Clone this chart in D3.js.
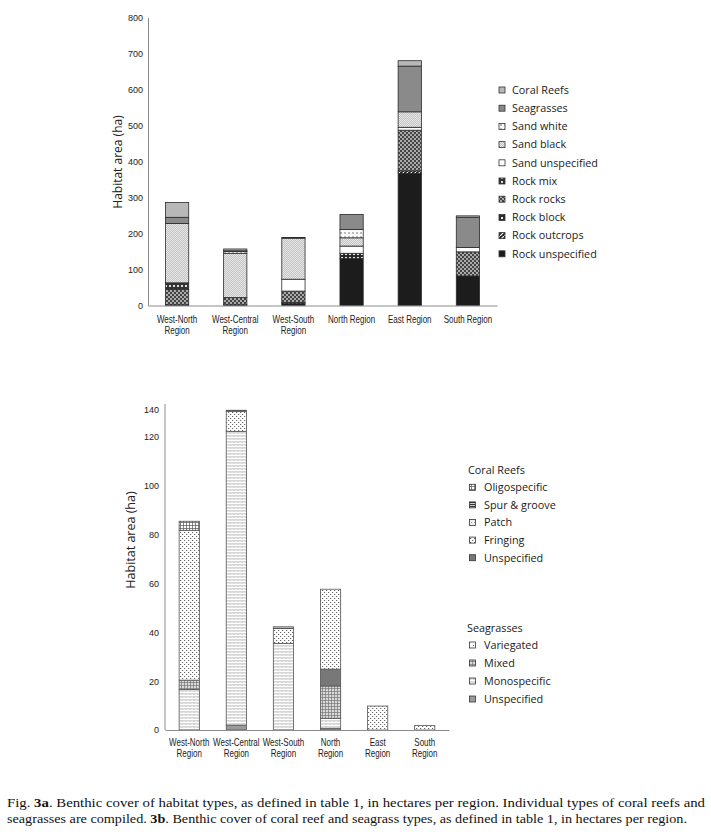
<!DOCTYPE html>
<html><head><meta charset="utf-8">
<script src="https://cdn.jsdelivr.net/npm/d3@7"></script>
<style>
body{margin:0;background:#fff;}
svg{display:block;}
.tick text{font-family:"Liberation Sans","Arial",sans-serif;font-size:9px;fill:#222;}
</style></head>
<body><svg id="c" width="711" height="837"></svg>
<script>
// ---------- Data: Fig 3a ----------
const regionsA = ["West-North Region","West-Central Region","West-South Region","North Region","East Region","South Region"];
const labelsA = [["West-North","Region"],["West-Central","Region"],["West-South","Region"],["North Region"],["East Region"],["South Region"]];
const seriesA = ["Rock unspecified","Rock outcrops","Rock block","Rock rocks","Rock mix","Sand unspecified","Sand black","Sand white","Seagrasses","Coral Reefs"];
const rockUnspecified = [2, 2, 5, 131, 367, 82];
const rockOutcrops    = [0, 0, 3, 0, 7, 0];
const rockBlock       = [0, 0, 0, 14, 0, 0];
const rockRocks       = [43, 20, 32, 0, 113, 67];
const rockMix         = [18, 0, 0, 0, 0, 0];
const sandUnspecified = [0, 0, 33, 20, 8, 12];
const sandBlack       = [165, 123, 114, 23, 43, 0];
const sandWhite       = [0, 5, 0, 23, 0, 0];
const seagrasses      = [17, 2, 2, 42, 127, 84];
const coralReefs      = [41, 5, 0, 0, 15, 4];
const ticksA = [0,100,200,300,400,500,600,700,800];

// ---------- Data: Fig 3b ----------
const regionsB = ["West-North Region","West-Central Region","West-South Region","North Region","East Region","South Region"];
const labelsB = [["West-North","Region"],["West-Central","Region"],["West-South","Region"],["North","Region"],["East","Region"],["South","Region"]];
const seriesB = ["sgUnspecified","sgMonospecific","sgMixed","sgVariegated","crUnspecified","crFringing","crPatch","crSpurGroove","crOligospecific"];
const sgUnspecified   = [0, 2, 0, 0.7, 0, 0];
const sgMonospecific  = [16.6, 122, 35.4, 4.1, 0, 0];
const sgMixed         = [3.8, 0, 0, 13.2, 0, 0];
const sgVariegated    = [0, 0, 0, 0, 0, 0];
const crUnspecified   = [0, 0, 0, 6.9, 0, 0];
const crFringing      = [61.3, 15, 6.1, 32.7, 9.8, 1.8];
const crPatch         = [0, 0, 0, 0, 0, 0];
const crSpurGroove    = [0, 0.8, 0.7, 0, 0, 0];
const crOligospecific = [3.7, 0, 0, 0, 0, 0];
const ticksB = [0,20,40,60,80,100,120,140];
const legendCoral = ["Oligospecific","Spur & groove","Patch","Fringing","Unspecified"];
const legendCoralKeys = ["crOligospecific","crSpurGroove","crPatch","crFringing","crUnspecified"];
const legendSea = ["Variegated","Mixed","Monospecific","Unspecified"];
const legendSeaKeys = ["sgVariegated","sgMixed","sgMonospecific","sgUnspecified"];

const caption1 = [["Fig. ",false],["3a",true],[". Benthic cover of habitat types, as defined in table 1, in hectares per region. Individual types of coral reefs and",false]];
const caption2 = [["seagrasses are compiled. ",false],["3b",true],[". Benthic cover of coral reef and seagrass types, as defined in table 1, in hectares per region.",false]];

const valuesA = {"Rock unspecified":rockUnspecified,"Rock outcrops":rockOutcrops,"Rock block":rockBlock,"Rock rocks":rockRocks,"Rock mix":rockMix,"Sand unspecified":sandUnspecified,"Sand black":sandBlack,"Sand white":sandWhite,"Seagrasses":seagrasses,"Coral Reefs":coralReefs};
const valuesB = {sgUnspecified,sgMonospecific,sgMixed,sgVariegated,crUnspecified,crFringing,crPatch,crSpurGroove,crOligospecific};

const svg = d3.select("#c");
const defs = svg.append("defs");

// ---------- patterns ----------
function pat(id, w, h, bg, draw){
  const p = defs.append("pattern").attr("id",id).attr("patternUnits","userSpaceOnUse").attr("width",w).attr("height",h);
  p.append("rect").attr("width",w).attr("height",h).attr("fill",bg);
  draw(p);
}
pat("pRockUnspec",4,4,"#1c1c1c",p=>{});
pat("pRockOutcrops",4,4,"#222",p=>{p.append("path").attr("d","M0,4L4,0").attr("stroke","#fff").attr("stroke-width",1.2);});
pat("pRockBlock",4,4,"#2a2a2a",p=>{p.append("rect").attr("x",1).attr("y",1).attr("width",2).attr("height",2).attr("fill","#eee");});
pat("pRockRocks",4,4,"#444",p=>{p.append("rect").attr("width",2).attr("height",2).attr("fill","#aaa");p.append("rect").attr("x",2).attr("y",2).attr("width",2).attr("height",2).attr("fill","#aaa");});
pat("pRockMix",4,4,"#333",p=>{p.append("rect").attr("x",1).attr("y",1).attr("width",2).attr("height",2).attr("fill","#ddd");});
pat("pSandUnspec",4,4,"#fff",p=>{});
pat("pSandBlack",2,2,"#c4c4c4",p=>{p.append("rect").attr("width",1).attr("height",1).attr("fill","#e6e6e6");p.append("rect").attr("x",1).attr("y",1).attr("width",1).attr("height",1).attr("fill","#e6e6e6");});
pat("pSandWhite",4,4,"#fafafa",p=>{p.append("rect").attr("x",0).attr("y",0).attr("width",2).attr("height",2).attr("fill","#bbb");});
pat("pSeagrass",4,4,"#8a8a8a",p=>{});
pat("pCoral",4,4,"#b8b8b8",p=>{});

pat("bSgUnspec",4,4,"#9a9a9a",p=>{});
pat("bSgMono",4,3,"#fff",p=>{p.append("path").attr("d","M0,1.5L1,0.5L2,1.5L3,0.5L4,1.5").attr("fill","none").attr("stroke","#8a8a8a").attr("stroke-width",0.8);});
pat("bSgMixed",3,3,"#d8d8d8",p=>{p.append("path").attr("d","M0,1.5H3M1.5,0V3").attr("stroke","#777").attr("stroke-width",0.7);});
pat("bSgVar",4,4,"#fff",p=>{p.append("rect").attr("x",1).attr("y",1).attr("width",1).attr("height",1).attr("fill","#777");});
pat("bCrUnspec",4,4,"#787878",p=>{});
pat("bCrFringing",4,4,"#fff",p=>{p.append("rect").attr("x",0).attr("y",0).attr("width",1.2).attr("height",1).attr("fill","#666");p.append("rect").attr("x",2).attr("y",2).attr("width",1.2).attr("height",1).attr("fill","#666");});
pat("bCrPatch",3,3,"#eee",p=>{p.append("rect").attr("width",1).attr("height",1).attr("fill","#999");});
pat("bCrSpur",3,2,"#ccc",p=>{p.append("rect").attr("width",3).attr("height",1).attr("fill","#333");});
pat("bCrOligo",3,3,"#fff",p=>{p.append("path").attr("d","M0,0.5H3M0.5,0V3").attr("stroke","#666").attr("stroke-width",0.8);});

const fillA = {"Rock unspecified":"url(#pRockUnspec)","Rock outcrops":"url(#pRockOutcrops)","Rock block":"url(#pRockBlock)","Rock rocks":"url(#pRockRocks)","Rock mix":"url(#pRockMix)","Sand unspecified":"url(#pSandUnspec)","Sand black":"url(#pSandBlack)","Sand white":"url(#pSandWhite)","Seagrasses":"url(#pSeagrass)","Coral Reefs":"url(#pCoral)"};
const fillB = {sgUnspecified:"url(#bSgUnspec)",sgMonospecific:"url(#bSgMono)",sgMixed:"url(#bSgMixed)",sgVariegated:"url(#bSgVar)",crUnspecified:"url(#bCrUnspec)",crFringing:"url(#bCrFringing)",crPatch:"url(#bCrPatch)",crSpurGroove:"url(#bCrSpur)",crOligospecific:"url(#bCrOligo)"};

const axisColor = "#8c8c8c";
const labelFont = '"Liberation Sans","Arial",sans-serif';
const uiFont = '"Open Sans","Noto Sans",sans-serif';

// condensed two-line category label
function catLabel(g, cx, y0, lines, dy){
  const grp = g.append("g").attr("transform",`translate(${cx},${y0}) scale(0.8,1)`);
  const t = grp.append("text").attr("text-anchor","middle").attr("font-family",labelFont).attr("font-size",10).attr("fill","#222");
  lines.forEach((ln,j)=>t.append("tspan").attr("x",0).attr("y",j*dy).text(ln));
}

// ---------- Chart A ----------
(function(){
  const x = d3.scaleBand().domain(regionsA).range([148,497]).paddingInner(0.6).paddingOuter(0.3);
  const y = d3.scaleLinear().domain([0,800]).range([305.5,17.5]);
  const rows = regionsA.map((r,i)=>{const o={region:r}; seriesA.forEach(s=>o[s]=valuesA[s][i]); return o;});
  const stack = d3.stack().keys(seriesA)(rows);
  const g = svg.append("g");
  g.selectAll("g.s").data(stack).join("g").attr("fill",d=>fillA[d.key])
    .selectAll("rect").data(d=>d.filter(e=>e[1]-e[0]>0)).join("rect")
    .attr("x",d=>x(d.data.region)).attr("width",x.bandwidth())
    .attr("y",d=>y(d[1])).attr("height",d=>y(d[0])-y(d[1]))
    .attr("stroke","#2a2a2a").attr("stroke-width",0.8);
  const ya = g.append("g").attr("transform","translate(148,0)").call(d3.axisLeft(y).tickValues(ticksA).tickSize(0).tickPadding(5));
  ya.select(".domain").attr("stroke",axisColor);
  const xa = g.append("g").attr("transform","translate(0,305.5)").call(d3.axisBottom(x).tickSize(0).tickFormat(""));
  xa.select(".domain").attr("stroke",axisColor);
  regionsA.forEach((r,i)=>catLabel(g, x(r)+x.bandwidth()/2, 322.5, labelsA[i], 12));
  g.append("text").attr("transform","translate(122,162) rotate(-90)").attr("text-anchor","middle")
    .attr("font-family",uiFont).attr("font-size",12).attr("fill","#222").text("Habitat area (ha)");
  const leg = g.append("g");
  seriesA.slice().reverse().forEach((s,i)=>{
    const yy = 90 + i*18.2;
    leg.append("rect").attr("x",499).attr("y",yy-3).attr("width",6).attr("height",6).attr("fill",fillA[s]).attr("stroke","#333").attr("stroke-width",0.8);
    leg.append("text").attr("x",512).attr("y",yy+3.8).attr("font-family",uiFont).attr("font-size",10.8).attr("fill","#1a1a1a").text(s);
  });
})();

// ---------- Chart B ----------
(function(){
  const x = d3.scaleBand().domain(regionsB).range([165,449]).paddingInner(0.57).paddingOuter(0.3);
  const y = d3.scaleLinear().domain([0,120,140]).range([730,436.7,410]);
  const rows = regionsB.map((r,i)=>{const o={region:r}; seriesB.forEach(s=>o[s]=valuesB[s][i]); return o;});
  const stack = d3.stack().keys(seriesB)(rows);
  const g = svg.append("g");
  g.selectAll("g.s").data(stack).join("g").attr("fill",d=>fillB[d.key])
    .selectAll("rect").data(d=>d.filter(e=>e[1]-e[0]>0)).join("rect")
    .attr("x",d=>x(d.data.region)).attr("width",x.bandwidth())
    .attr("y",d=>y(d[1])).attr("height",d=>y(d[0])-y(d[1]))
    .attr("stroke","#555").attr("stroke-width",0.8);
  const ya = g.append("g").attr("transform","translate(165,0)").call(d3.axisLeft(y).tickValues(ticksB).tickSize(0).tickPadding(6));
  ya.select(".domain").attr("stroke",axisColor).attr("d","M0,404V730");
  const xa = g.append("g").attr("transform","translate(0,730)").call(d3.axisBottom(x).tickSize(0).tickFormat(""));
  xa.select(".domain").attr("stroke",axisColor);
  regionsB.forEach((r,i)=>catLabel(g, x(r)+x.bandwidth()/2, 746, labelsB[i], 11.5));
  g.append("text").attr("transform","translate(135,540) rotate(-90)").attr("text-anchor","middle")
    .attr("font-family",uiFont).attr("font-size",12.5).attr("fill","#222").text("Habitat area (ha)");
  const leg = g.append("g");
  leg.append("text").attr("x",468).attr("y",474).attr("font-family",uiFont).attr("font-size",10.8).attr("fill","#1a1a1a").text("Coral Reefs");
  legendCoral.forEach((s,i)=>{
    const yy = 487.3 + i*17.6;
    leg.append("rect").attr("x",469.5).attr("y",yy-3).attr("width",6).attr("height",6).attr("fill",fillB[legendCoralKeys[i]]).attr("stroke","#333").attr("stroke-width",0.8);
    leg.append("text").attr("x",484).attr("y",yy+3.8).attr("font-family",uiFont).attr("font-size",10.8).attr("fill","#1a1a1a").text(s);
  });
  leg.append("text").attr("x",467).attr("y",631.5).attr("font-family",uiFont).attr("font-size",10.8).attr("fill","#1a1a1a").text("Seagrasses");
  legendSea.forEach((s,i)=>{
    const yy = 645 + i*18;
    leg.append("rect").attr("x",469.5).attr("y",yy-3).attr("width",6).attr("height",6).attr("fill",fillB[legendSeaKeys[i]]).attr("stroke","#333").attr("stroke-width",0.8);
    leg.append("text").attr("x",484).attr("y",yy+3.8).attr("font-family",uiFont).attr("font-size",10.8).attr("fill","#1a1a1a").text(s);
  });
})();

// ---------- Caption ----------
function capLine(parts, yy, len){
  const t = svg.append("text").attr("x",7).attr("y",yy).attr("font-family",'"Liberation Serif","Times New Roman",serif').attr("font-size",13.5).attr("fill","#111");
  if(len) t.attr("textLength",len).attr("lengthAdjust","spacingAndGlyphs");
  parts.forEach(p=>t.append("tspan").attr("font-weight",p[1]?"bold":"normal").text(p[0]));
}
capLine(caption1, 807, 698);
capLine(caption2, 823, 680);
</script></body></html>
